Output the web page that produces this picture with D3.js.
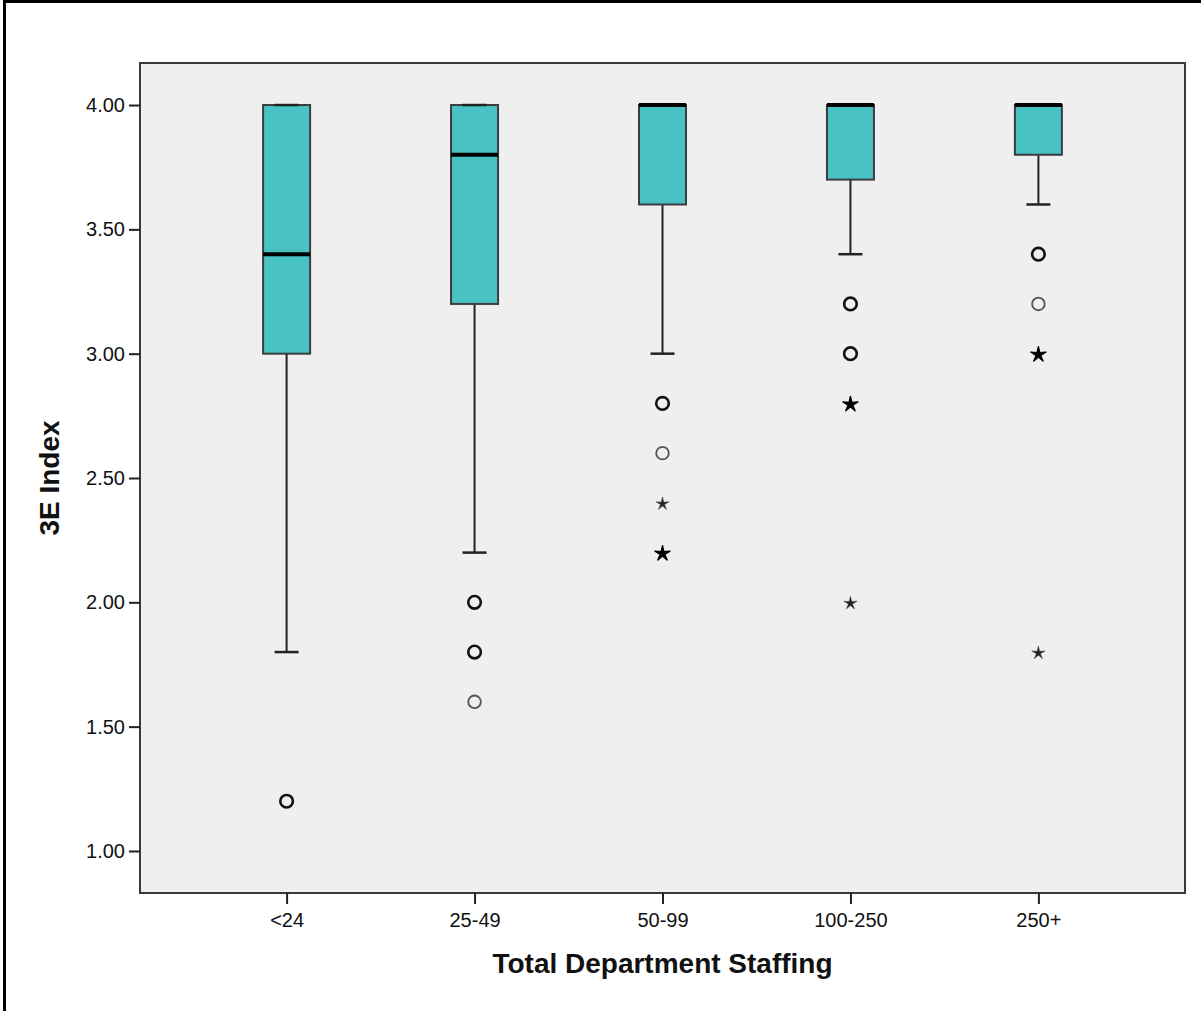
<!DOCTYPE html>
<html>
<head>
<meta charset="utf-8">
<script src="https://cdn.jsdelivr.net/npm/d3@7"></script>
<style>
  html, body { margin: 0; padding: 0; background: #fff; }
  svg { display: block; }
  text { font-family: "Liberation Sans", Arial, sans-serif; }
</style>
</head>
<body>
<svg id="chart" width="1201" height="1011"></svg>
<script>
// ---- data ----
const categories = ["<24", "25-49", "50-99", "100-250", "250+"];
const whiskerLow  = [1.8, 2.2, 3.0, 3.4, 3.6];
const q1          = [3.0, 3.2, 3.6, 3.7, 3.8];
const median      = [3.4, 3.8, 4.0, 4.0, 4.0];
const q3          = [4.0, 4.0, 4.0, 4.0, 4.0];
const whiskerHigh = [4.0, 4.0, 4.0, 4.0, 4.0];

// outliers: circle = outlier, star = extreme; multiple = several cases at same value
const outlierCategory = ["<24", "25-49", "25-49", "25-49", "50-99", "50-99", "50-99", "50-99",
                         "100-250", "100-250", "100-250", "100-250", "250+", "250+", "250+", "250+"];
const outlierValue    = [1.2, 2.0, 1.8, 1.6, 2.8, 2.6, 2.4, 2.2,
                         3.2, 3.0, 2.8, 2.0, 3.4, 3.2, 3.0, 1.8];
const outlierKind     = ["circle", "circle", "circle", "circle", "circle", "circle", "star", "star",
                         "circle", "circle", "star", "star", "circle", "circle", "star", "star"];
const outlierMultiple = [true, true, true, false, true, false, false, true,
                         true, true, true, false, true, false, true, false];

const yTicks = [1.0, 1.5, 2.0, 2.5, 3.0, 3.5, 4.0];
const xTitle = "Total Department Staffing";
const yTitle = "3E Index";

// ---- layout ----
const svg = d3.select("#chart");
const plot = { left: 140, right: 1185, top: 63, bottom: 893 };

const x = d3.scalePoint().domain(categories).range([plot.left, plot.right]).padding(0.78);
const y = d3.scaleLinear().domain([0.831, 4.169]).range([plot.bottom, plot.top]);

// outer frame (top & left lines)
svg.append("line").attr("x1", 3).attr("x2", 1201).attr("y1", 1.5).attr("y2", 1.5)
  .attr("stroke", "#000").attr("stroke-width", 3);
svg.append("line").attr("x1", 4.5).attr("x2", 4.5).attr("y1", 0).attr("y2", 1011)
  .attr("stroke", "#000").attr("stroke-width", 3);

// plot background
svg.append("rect")
  .attr("x", plot.left).attr("y", plot.top)
  .attr("width", plot.right - plot.left).attr("height", plot.bottom - plot.top)
  .attr("fill", "#efefef").attr("stroke", "#3a3a3a").attr("stroke-width", 2);

// axes
const yAxis = svg.append("g").attr("transform", `translate(${plot.left},0)`)
  .call(d3.axisLeft(y).tickValues(yTicks).tickFormat(d3.format(".2f")).tickSize(11).tickPadding(4));
const xAxis = svg.append("g").attr("transform", `translate(0,${plot.bottom})`)
  .call(d3.axisBottom(x).tickSize(11).tickPadding(9));
[yAxis, xAxis].forEach(g => {
  g.select(".domain").remove();
  g.selectAll(".tick line").attr("stroke", "#222").attr("stroke-width", 2);
  g.selectAll(".tick text").attr("fill", "#111").style("font-size", "20px")
    .style("font-family", "'Liberation Sans', Arial, sans-serif");
});

// boxes
const boxW = 47, capW = 24;
const data = categories.map((c, i) => ({
  c, lo: whiskerLow[i], q1: q1[i], med: median[i], q3: q3[i], hi: whiskerHigh[i]
}));
const g = svg.append("g");
data.forEach(d => {
  const cx = x(d.c);
  g.append("line").attr("x1", cx).attr("x2", cx).attr("y1", y(d.lo)).attr("y2", y(d.q1))
    .attr("stroke", "#222").attr("stroke-width", 2);
  g.append("line").attr("x1", cx).attr("x2", cx).attr("y1", y(d.q3)).attr("y2", y(d.hi))
    .attr("stroke", "#222").attr("stroke-width", 2);
  g.append("rect").attr("x", cx - boxW / 2).attr("y", y(d.q3))
    .attr("width", boxW).attr("height", y(d.q1) - y(d.q3))
    .attr("fill", "#48c2c5").attr("stroke", "#3c3c3c").attr("stroke-width", 2);
  [d.lo, d.hi].forEach(v => {
    g.append("line").attr("x1", cx - capW / 2).attr("x2", cx + capW / 2).attr("y1", y(v)).attr("y2", y(v))
      .attr("stroke", "#222").attr("stroke-width", 2.5);
  });
  g.append("line").attr("x1", cx - boxW / 2).attr("x2", cx + boxW / 2)
    .attr("y1", y(d.med)).attr("y2", y(d.med))
    .attr("stroke", "#000").attr("stroke-width", 4);
});

// slim five-pointed star symbol type (SPSS extreme marker)
const slimStar = {
  draw(context, size) {
    const R = Math.sqrt(size * 0.9), r = R * 0.3;
    for (let k = 0; k < 10; k++) {
      const a = -Math.PI / 2 + k * Math.PI / 5;
      const rad = k % 2 === 0 ? R : r;
      const px = rad * Math.cos(a), py = rad * Math.sin(a);
      if (k === 0) context.moveTo(px, py); else context.lineTo(px, py);
    }
    context.closePath();
  }
};
const star = d3.symbol().type(slimStar);

outlierValue.forEach((v, i) => {
  const cx = x(outlierCategory[i]), cy = y(v);
  const multi = outlierMultiple[i];
  if (outlierKind[i] === "circle") {
    g.append("circle").attr("cx", cx).attr("cy", cy).attr("r", 6.3)
      .attr("fill", "none")
      .attr("stroke", multi ? "#111" : "#555")
      .attr("stroke-width", multi ? 2.6 : 1.8);
  } else {
    g.append("path").attr("transform", `translate(${cx},${cy + 1})`)
      .attr("d", star.size(multi ? 70 : 55)())
      .attr("fill", multi ? "#000" : "#222")
      .attr("stroke", multi ? "#000" : "#444").attr("stroke-width", multi ? 1.4 : 0.5)
      .attr("stroke-linejoin", "round");
  }
});

// titles
svg.append("text").attr("x", (plot.left + plot.right) / 2).attr("y", 973)
  .attr("text-anchor", "middle").style("font-size", "28px").style("font-weight", "bold")
  .attr("fill", "#111").text(xTitle);
svg.append("text").attr("transform", "translate(59,478) rotate(-90)")
  .attr("text-anchor", "middle").style("font-size", "28px").style("font-weight", "bold")
  .attr("fill", "#111").text(yTitle);
</script>
</body>
</html>
